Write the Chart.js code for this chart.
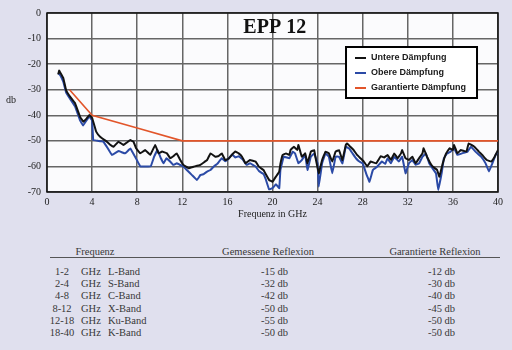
<!DOCTYPE html>
<html>
<head>
<meta charset="utf-8">
<script src="https://cdn.jsdelivr.net/npm/chart.js@4/dist/chart.umd.min.js"></script>
<style>
  body { margin: 0; background: #e0e0ee; width: 512px; height: 350px; overflow: hidden; }
  #wrap { position: relative; width: 512px; height: 225px; }
  #table { position: relative; width: 512px; height: 125px; font-family: "Liberation Serif", "Times New Roman", serif; color: #383838; font-size: 10.5px; }
  #table div { position: absolute; white-space: nowrap; line-height: 12px; }
  .rule { left: 50px; width: 450px; top: 32px; height: 0; border-top: 1px solid #555; }
</style>
</head>
<body>
<div id="wrap"><canvas id="epp" width="512" height="225"></canvas></div>
<div id="table"></div>
<script>
// Untere Dämpfung (schwarz)
const untereFreq = [1.0, 1.07, 1.2, 1.45, 1.69, 2.04, 2.49, 2.93, 3.23, 3.52, 3.76, 4.0, 4.2, 4.36, 4.71, 5.3, 5.6, 5.9, 6.34, 6.78, 7.38, 7.67, 7.9, 8.27, 8.7, 9.16, 9.6, 9.9, 10.2, 10.64, 10.93, 11.2, 11.5, 11.82, 12.1, 12.56, 13.0, 13.6, 14.2, 14.5, 14.93, 15.2, 15.5, 15.8, 16.1, 16.4, 16.7, 17.0, 17.3, 17.6, 18.0, 18.5, 18.8, 19.2, 19.4, 19.7, 20.0, 20.3, 20.6, 20.7, 20.9, 21.2, 21.5, 21.6, 21.9, 22.2, 22.3, 22.6, 22.9, 23.1, 23.4, 23.7, 23.8, 24.1, 24.4, 24.7, 25.0, 25.3, 25.6, 25.9, 26.2, 26.5, 26.6, 26.9, 27.2, 27.5, 27.8, 28.1, 28.4, 28.7, 29.2, 29.6, 29.9, 30.2, 30.5, 30.8, 31.1, 31.4, 31.5, 31.8, 32.1, 32.4, 32.7, 33.0, 33.3, 33.4, 33.7, 34.0, 34.2, 34.6, 34.8, 35.1, 35.4, 35.7, 36.0, 36.1, 36.4, 36.7, 37.2, 37.4, 37.9, 38.3, 38.6, 39.0, 39.4, 39.7, 40.0];
const untereDb = [-24, -22.5, -23.5, -25.5, -30.1, -32.7, -35.3, -40.6, -42.5, -41.2, -39.9, -41, -44, -46.4, -48.4, -50.3, -51.5, -52.3, -50.3, -51.6, -49.7, -50.3, -52.9, -54.9, -53.6, -55.5, -51.6, -54.9, -54.2, -54.9, -56.8, -56, -54.9, -57.5, -59.4, -60.7, -60.1, -59.4, -57.5, -54.9, -56.2, -56, -54.9, -57.5, -57, -55.5, -54.2, -54.9, -56.2, -58.8, -57.5, -58.1, -60.1, -61.4, -63, -65.3, -66, -64, -62, -59, -55.5, -54.9, -55.5, -53.6, -52.3, -53.6, -51.6, -56.2, -54.9, -58.8, -54.2, -53.6, -56.2, -62.7, -57.5, -54.2, -54.9, -58.1, -54.2, -53.6, -57.5, -51.6, -51, -52.3, -53.6, -55.5, -56.8, -58.1, -60, -58.1, -58.8, -56, -56.5, -55.5, -57.5, -54.9, -56.8, -54.9, -53.6, -56.8, -57.5, -56.2, -58.8, -56.8, -54.9, -52.9, -56.2, -58.8, -60, -61.4, -64, -58.8, -54.9, -52.9, -53.6, -51.6, -54.9, -53.6, -54.2, -51, -52.3, -54.2, -55.5, -57.5, -58.1, -56.2, -53.6];

// Obere Dämpfung (blau)
const obereFreq = [1.0, 1.2, 1.45, 1.69, 2.04, 2.49, 2.93, 3.2, 3.5, 3.76, 4.0, 4.1, 4.5, 5.0, 5.4, 5.75, 6.34, 6.93, 7.4, 7.97, 8.27, 8.8, 9.2, 9.5, 9.8, 10.1, 10.34, 10.6, 10.9, 11.2, 11.5, 11.8, 12.1, 12.4, 12.86, 13.3, 13.6, 13.9, 14.2, 14.5, 14.8, 15.1, 15.5, 15.8, 16.1, 16.4, 16.7, 17.0, 17.4, 17.7, 18.0, 18.5, 18.8, 19.2, 19.4, 19.7, 20.0, 20.3, 20.6, 20.7, 21.0, 21.5, 21.8, 22.0, 22.3, 22.6, 22.9, 23.1, 23.4, 23.7, 24.0, 24.1, 24.4, 24.7, 25.0, 25.3, 25.6, 25.9, 26.2, 26.5, 26.8, 27.1, 27.4, 27.7, 28.0, 28.3, 28.6, 28.9, 29.3, 29.7, 30.0, 30.2, 30.5, 30.8, 31.2, 31.5, 31.8, 32.1, 32.4, 32.7, 33.0, 33.3, 33.6, 33.9, 34.2, 34.5, 34.7, 35.0, 35.2, 35.5, 35.8, 36.1, 36.4, 36.8, 37.3, 37.6, 38.0, 38.5, 38.9, 39.2, 39.5, 39.8, 40.0];
const obereDb = [-23.5, -24.5, -27, -31, -33.5, -36.5, -42, -44, -42, -40.5, -42, -49.7, -50, -50.3, -53, -55.5, -54, -54.9, -53, -57.5, -60, -60, -60, -56.2, -53.6, -56.8, -58.8, -56.8, -58, -59.4, -58.8, -59.4, -60, -61.4, -63.4, -65.3, -63.4, -63, -62, -61.4, -60, -59, -56.8, -58, -57, -55.3, -56.5, -56, -57.5, -59.4, -58.8, -60, -61.8, -63, -65, -69, -68.5, -67, -68.5, -61.4, -56.2, -56.8, -54.2, -54.9, -58.8, -57.5, -55.5, -61.4, -56.2, -54.9, -58.8, -67.9, -58.8, -54.9, -56.2, -62.7, -56.2, -56.2, -58.8, -52.3, -53, -54.9, -56.8, -58.1, -58.8, -62.7, -66, -61.4, -60, -58.1, -59, -56.8, -58.8, -56.2, -58.1, -56.2, -62.7, -58.8, -57.5, -59.4, -58.8, -56.2, -54.9, -58.8, -60.8, -62.7, -69.2, -62.7, -56.8, -54.9, -54.2, -52.9, -55.5, -54.9, -54.2, -52.3, -54.2, -56.2, -58.8, -62, -58.8, -55.5, -54.2];

// Garantierte Dämpfung (orange)
const garantieFreq = [2, 4, 8, 12, 40];
const garantieDb = [-30, -40, -45, -50, -50];

// Tabelle
const bandRange = ['1-2', '2-4', '4-8', '8-12', '12-18', '18-40'];
const bandName = ['L-Band', 'S-Band', 'C-Band', 'X-Band', 'Ku-Band', 'K-Band'];
const gemesseneReflexion = [-15, -32, -42, -50, -55, -50];
const garantierteReflexion = [-12, -30, -40, -45, -50, -50];

const xTicks = [0, 4, 8, 12, 16, 20, 24, 28, 32, 36, 40];

function toPoints(xs, ys) {
    return xs.map(function(x, i) { return { x: x, y: ys[i] }; });
}

const serif = '"Liberation Serif", "Times New Roman", serif';

// white plot area plus full black frame
const plotFrame = {
    id: 'plotFrame',
    beforeDraw: function(chart) {
        const a = chart.chartArea, c = chart.ctx;
        c.save();
        c.fillStyle = '#fbfbfd';
        c.fillRect(a.left, a.top, a.right - a.left, a.bottom - a.top);
        c.restore();
    },
    beforeDatasetsDraw: function(chart) {
        const a = chart.chartArea, c = chart.ctx;
        c.save();
        c.strokeStyle = '#111';
        c.lineWidth = 1.5;
        c.strokeRect(a.left, a.top, a.right - a.left, a.bottom - a.top);
        c.restore();
    }
};

// title, horizontal "db" label and the boxed legend inside the plot
const overlay = {
    id: 'overlay',
    afterDraw: function(chart) {
        const a = chart.chartArea, c = chart.ctx;
        c.save();
        c.fillStyle = '#111';
        c.font = 'bold 20px ' + serif;
        c.textAlign = 'center';
        c.textBaseline = 'alphabetic';
        c.fillText('EPP 12', a.left + (a.right - a.left) * 0.505, a.top + 20);

        c.font = '10px ' + serif;
        c.fillStyle = '#222';
        c.textAlign = 'left';
        c.textBaseline = 'middle';
        c.fillText('db', 6, (a.top + a.bottom) / 2 - 2);

        // legend box
        const bx = a.left + (a.right - a.left) * 0.663, by = a.top + 34, bw = 131, bh = 51;
        c.fillStyle = '#ffffff';
        c.fillRect(bx, by, bw, bh);
        c.strokeStyle = '#000';
        c.lineWidth = 2;
        c.strokeRect(bx, by, bw, bh);
        c.font = 'bold 9px "Liberation Sans", Arial, sans-serif';
        chart.data.datasets.forEach(function(ds, i) {
            const ly = by + 11 + i * 15;
            c.strokeStyle = ds.borderColor;
            c.lineWidth = 2;
            c.beginPath();
            c.moveTo(bx + 9, ly);
            c.lineTo(bx + 20, ly);
            c.stroke();
            c.fillStyle = '#1a1a1a';
            c.fillText(ds.label, bx + 25, ly);
        });
        c.restore();
    }
};

new Chart(document.getElementById('epp').getContext('2d'), {
    type: 'line',
    data: {
        datasets: [
            {
                label: 'Untere Dämpfung',
                data: toPoints(untereFreq, untereDb),
                borderColor: '#121212',
                borderWidth: 2,
                tension: 0.05
            },
            {
                label: 'Obere Dämpfung',
                data: toPoints(obereFreq, obereDb),
                borderColor: '#2b4aa6',
                borderWidth: 2,
                tension: 0.05
            },
            {
                label: 'Garantierte Dämpfung',
                data: toPoints(garantieFreq, garantieDb),
                borderColor: '#e2552a',
                borderWidth: 1.6,
                tension: 0
            }
        ]
    },
    options: {
        responsive: false,
        animation: false,
        events: [],
        layout: { padding: { top: 13, right: 14, left: 0, bottom: 0 } },
        elements: { point: { radius: 0 } },
        plugins: {
            legend: { display: false },
            tooltip: { enabled: false }
        },
        scales: {
            x: {
                type: 'linear',
                min: 0,
                max: 40,
                afterFit: function(s) { s.height = 33; },
                afterBuildTicks: function(s) { s.ticks = xTicks.map(function(v) { return { value: v }; }); },
                grid: { color: '#666', lineWidth: 1.5, drawTicks: false },
                border: { display: false },
                ticks: { padding: 4, color: '#222', font: { family: serif, size: 10 } },
                title: {
                    display: true,
                    text: 'Frequenz in GHz',
                    color: '#222',
                    font: { family: serif, size: 10 },
                    padding: { top: 2, bottom: 5 }
                }
            },
            y: {
                min: -70,
                max: 0,
                afterFit: function(s) { s.width = 47; },
                grid: { color: '#666', lineWidth: 1.5, drawTicks: false },
                border: { display: false },
                ticks: { stepSize: 10, padding: 6, color: '#222', font: { family: serif, size: 10 } }
            }
        }
    },
    plugins: [plotFrame, overlay]
});

// table under the chart
const table = document.getElementById('table');
function cell(text, left, top, align) {
    const d = document.createElement('div');
    d.textContent = text;
    d.style.top = top + 'px';
    if (align === 'center') {
        d.style.left = (left - 100) + 'px';
        d.style.width = '200px';
        d.style.textAlign = 'center';
    } else {
        d.style.left = left + 'px';
    }
    table.appendChild(d);
}
cell('Frequenz', 95, 21, 'center');
cell('Gemessene Reflexion', 268, 21, 'center');
cell('Garantierte Reflexion', 435, 21, 'center');
const rule = document.createElement('div');
rule.className = 'rule';
table.appendChild(rule);
bandRange.forEach(function(r, i) {
    const top = 41 + i * 12.2;
    cell(r, 62, top, 'center');
    cell('GHz', 81, top);
    cell(bandName[i], 108, top);
    cell(gemesseneReflexion[i] + ' db', 261, top);
    cell(garantierteReflexion[i] + ' db', 428, top);
});
</script>
</body>
</html>
